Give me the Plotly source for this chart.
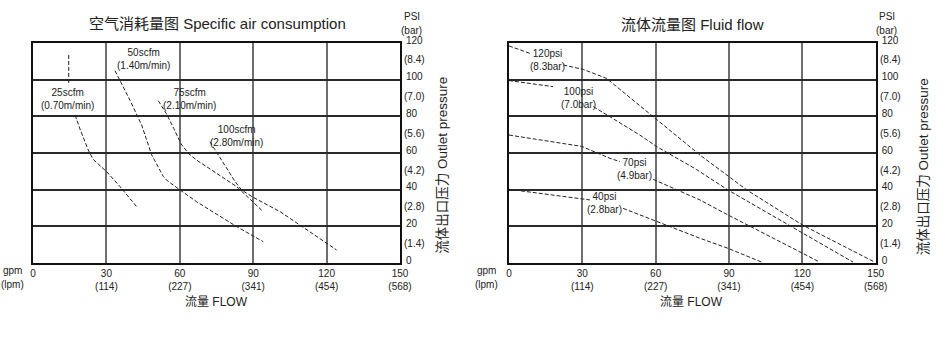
import plotly.graph_objects as go

W, H = 947, 362
FONT = "Liberation Sans, Arial, Noto Sans CJK SC, sans-serif"
INK = "#222222"

# ---------------- data ----------------
gpm_ticks = [0, 30, 60, 90, 120, 150]
lpm_labels = ["", "(114)", "(227)", "(341)", "(454)", "(568)"]
psi_ticks = [0, 20, 40, 60, 80, 100, 120]
bar_labels = ["", "(1.4)", "(2.8)", "(4.2)", "(5.6)", "(7.0)", "(8.4)"]

# Specific air consumption (flow gpm vs outlet psi)
air_25_x = [14.6, 14.6, None, 17.2, 19.5, 22.6, 24.6, 30.1, 35.6, 42.4]
air_25_y = [113.5, 97.0, None, 80.7, 72.0, 61.6, 56.5, 49.8, 41.6, 30.7]
air_50_x = [33.5, 39.6, 44.4, 48.5, 53.3, 54.8, 60.1, 66.9, 83.3, 94.1]
air_50_y = [104.9, 88.9, 75.3, 59.0, 47.1, 45.0, 39.8, 33.4, 19.8, 11.6]
air_75_x = [51.2, 54.5, 57.5, 60.5, 63.5, 67.0, 71.0, 83.3, 94.1]
air_75_y = [88.5, 81.5, 73.5, 65.0, 59.8, 56.0, 52.5, 41.6, 28.0]
air_100_x = [72.3, 77.1, 82.6, 85.3, 90.0, 101.0, 109.1, 124.1]
air_100_y = [66.2, 56.2, 44.4, 39.8, 35.8, 28.0, 20.7, 7.1]
air_names = ["25scfm<br>(0.70m/min)", "50scfm<br>(1.40m/min)",
             "75scfm<br>(2.10m/min)", "100scfm<br>(2.80m/min)"]
air_label_x = [14.3, 45.1, 63.8, 83.3]
air_label_y = [89.5, 111.0, 89.7, 69.5]

# Fluid flow (flow gpm vs outlet psi)
ff_120_x = [0, 9.3, None, 22.2, 30.4, 39.9, 43.3, 59.0, 78.1, 97.3, 120.3, 149.6]
ff_120_y = [118.4, 114.0, None, 108.0, 105.6, 100.7, 97.0, 79.8, 58.9, 39.8, 20.5, 0.5]
ff_100_x = [0, 9.3, 18.0, None, 34.5, 41.3, 53.5, 60.4, 76.7, 89.6, 120.3, 140.7]
ff_100_y = [99.5, 98.0, 96.2, None, 85.3, 79.8, 69.8, 63.5, 51.0, 39.8, 16.3, 0.5]
ff_70_x = [0, 29.7, 41.3, 45.4, None, 59.0, 78.1, 89.6, 120.3, 127.1]
ff_70_y = [69.8, 63.6, 57.1, 55.3, None, 45.6, 34.4, 26.2, 5.5, 0.5]
ff_40_x = [0, 29.7, 33.1, None, 46.7, 60.4, 78.1, 89.6, 103.3]
ff_40_y = [40.2, 35.3, 34.4, None, 29.8, 22.5, 13.5, 8.0, 0.5]
ff_names = ["120psi<br>(8.3bar)", "100psi<br>(7.0bar)", "70psi<br>(4.9bar)", "40psi<br>(2.8bar)"]
ff_label_x = [15.6, 28.3, 51.5, 38.9]
ff_label_y = [110.8, 89.8, 51.2, 32.6]

# ---------------- layout geometry (window pixel -> paper) ----------------
def px_x(p):
    return p / W

def px_y(p):
    return 1 - p / H

Y_DOM = [px_y(263), px_y(43)]
X1_DOM = [px_x(33), px_x(400)]
X2_DOM = [px_x(509), px_x(875.7)]

fig = go.Figure()
line_style = dict(color=INK, width=1, dash="4px,2px")

for xs, ys in [(air_25_x, air_25_y), (air_50_x, air_50_y), (air_75_x, air_75_y), (air_100_x, air_100_y)]:
    fig.add_trace(go.Scatter(x=xs, y=ys, mode="lines", line=line_style, xaxis="x", yaxis="y",
                             showlegend=False, hoverinfo="skip"))
for xs, ys in [(ff_120_x, ff_120_y), (ff_100_x, ff_100_y), (ff_70_x, ff_70_y), (ff_40_x, ff_40_y)]:
    fig.add_trace(go.Scatter(x=xs, y=ys, mode="lines", line=line_style, xaxis="x2", yaxis="y2",
                             showlegend=False, hoverinfo="skip"))

x_ticktext = [str(g) if l == "" else f"{g}<br>{l}" for g, l in zip(gpm_ticks, lpm_labels)]

def xaxis(dom, anchor):
    return dict(domain=dom, anchor=anchor, range=[0, 150], tickvals=gpm_ticks, ticktext=x_ticktext,
                showgrid=True, gridcolor="#6e6e6e", gridwidth=2, zeroline=False,
                showline=True, mirror=True, linecolor="#111", linewidth=2, ticks="",
                tickfont=dict(family=FONT, size=10, color=INK), automargin=False, fixedrange=True)

def yaxis(anchor):
    return dict(domain=Y_DOM, anchor=anchor, side="right", range=[0, 120], tickvals=psi_ticks,
                ticktext=[str(p) for p in psi_ticks], showgrid=True, gridcolor="#2a2a2a", gridwidth=2,
                zeroline=False, showline=True, mirror=True, linecolor="#111", linewidth=2, ticks="",
                ticklabelshift=-3, ticklabelstandoff=2,
                tickfont=dict(family=FONT, size=10, color=INK), automargin=False, fixedrange=True)

annotations = []
# bar values under psi ticks
for xr, yr in [("x domain", "y"), ("x2 domain", "y2")]:
    for p, b in zip(psi_ticks, bar_labels):
        if b:
            annotations.append(dict(text=b, xref=xr, yref=yr, x=1, y=p, xanchor="left", yanchor="middle",
                                    xshift=2, yshift=-17, showarrow=False,
                                    font=dict(family=FONT, size=10, color=INK)))

# curve labels
for t, x, y in zip(air_names, air_label_x, air_label_y):
    annotations.append(dict(text=t, xref="x", yref="y", x=x, y=y, showarrow=False,
                            font=dict(family=FONT, size=10, color=INK), xanchor="center", yanchor="middle"))
for t, x, y in zip(ff_names, ff_label_x, ff_label_y):
    annotations.append(dict(text=t, xref="x2", yref="y2", x=x, y=y, showarrow=False,
                            font=dict(family=FONT, size=10, color=INK), xanchor="center", yanchor="middle"))

def txt(text, x, y, size, angle=0, anchor="center"):
    annotations.append(dict(text=text, xref="paper", yref="paper", x=px_x(x), y=px_y(y), showarrow=False,
                            xanchor=anchor, yanchor="middle", textangle=angle,
                            font=dict(family=FONT, size=size, color=INK)))

txt("空气消耗量图 Specific air consumption", 217, 23.5, 15)
txt("流体流量图 Fluid flow", 692, 24.5, 15)
for cx in (411.7, 886.7):
    txt("PSI", cx, 16.5, 10)
    txt("(bar)", cx, 30, 10)
for cx in (12.5, 487):
    txt("gpm", cx, 270.7, 10)
    txt("(lpm)", cx, 284, 10)
txt("流量 FLOW", 216.7, 301.7, 12)
txt("流量 FLOW", 691.7, 301.7, 12)
txt("流体出口压力 Outlet pressure", 441.7, 165, 13.5, angle=-90)
txt("流体出口压力 Outlet pressure", 923.3, 167, 13.5, angle=-90)

fig.update_layout(
    width=W, height=H, margin=dict(l=0, r=0, t=0, b=0),
    paper_bgcolor="white", plot_bgcolor="white",
    xaxis=xaxis(X1_DOM, "y"), yaxis=yaxis("x"),
    xaxis2=xaxis(X2_DOM, "y2"), yaxis2=yaxis("x2"),
    annotations=annotations, showlegend=False,
)

# The page body carries a default 8px margin; remove it so the figure fills the window exactly.
fig.write_html("out.html", config={"displayModeBar": False},
               post_script="document.body.style.margin='0';")
